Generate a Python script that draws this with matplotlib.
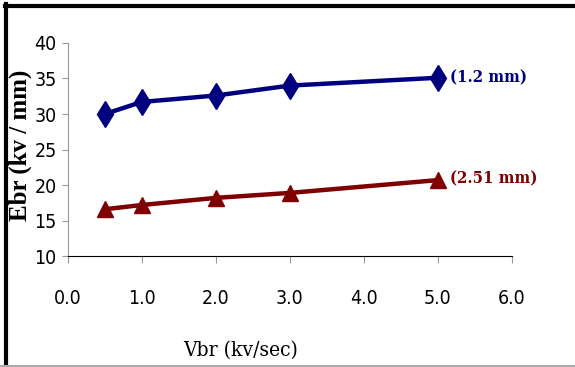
import matplotlib
matplotlib.use("Agg")
import matplotlib.pyplot as plt
from matplotlib.lines import Line2D

# data
rate = [0.5, 1.0, 2.0, 3.0, 5.0]
e_12 = [30.0, 31.7, 32.6, 34.0, 35.1]
e_251 = [16.6, 17.2, 18.2, 18.9, 20.7]
xticks = [0, 1, 2, 3, 4, 5, 6]
yticks = [10, 15, 20, 25, 30, 35, 40]

fig = plt.figure(figsize=(5.75, 3.67), dpi=100)
ax = fig.add_axes([0.118, 0.302, 0.772, 0.581])

ax.plot(rate, e_12, color='#00007f', lw=3.2, marker='d', ms=13, zorder=3)
ax.plot(rate, e_251, color='#7f0000', lw=3.2, marker='^', ms=11, zorder=3)

ax.set_xlim(0, 6)
ax.set_ylim(10, 40)
ax.set_xticks(xticks)
ax.set_xticklabels([f'{v:.1f}' for v in xticks])
ax.set_yticks(yticks)
for s in ['top', 'right']:
    ax.spines[s].set_visible(False)
ax.spines['left'].set_color('#999999')
ax.spines['bottom'].set_color('black')
ax.tick_params(axis='x', direction='out', length=5, color='#999999', pad=19,
               labelsize=14)
ax.tick_params(axis='y', direction='out', length=4, color='#999999', pad=4,
               labelsize=14)
for lab in ax.get_xticklabels() + ax.get_yticklabels():
    lab.set_family('DejaVu Sans')
    lab.set_stretch('condensed')

ax.text(5.17, 35.1, '(1.2 mm)', color='#00007f', fontsize=12,
        fontweight='bold', family='DejaVu Serif', stretch='condensed',
        va='center', ha='left')
ax.text(5.17, 20.9, '(2.51 mm)', color='#7f0000', fontsize=12,
        fontweight='bold', family='DejaVu Serif', stretch='condensed',
        va='center', ha='left')

fig.text(0.036, 0.605, 'Ebr (kv / mm)', rotation=90, fontsize=18,
         fontweight='bold', family='Liberation Serif', ha='center', va='center')
fig.text(0.419, 0.045, 'Vbr (kv/sec)', fontsize=15, family='DejaVu Serif',
         stretch='condensed', ha='center', va='center')

# frame around the picture
fig.add_artist(Line2D([0.008, 1.0], [0.984, 0.984], color='black', lw=3,
                      transform=fig.transFigure))
fig.add_artist(Line2D([0.01, 0.01], [0.0, 0.988], color='black', lw=3,
                      transform=fig.transFigure))
fig.add_artist(Line2D([0.0, 1.0], [0.003, 0.003], color='#aaaaaa', lw=1.5,
                      transform=fig.transFigure))

fig.savefig('out.png', dpi=100)
